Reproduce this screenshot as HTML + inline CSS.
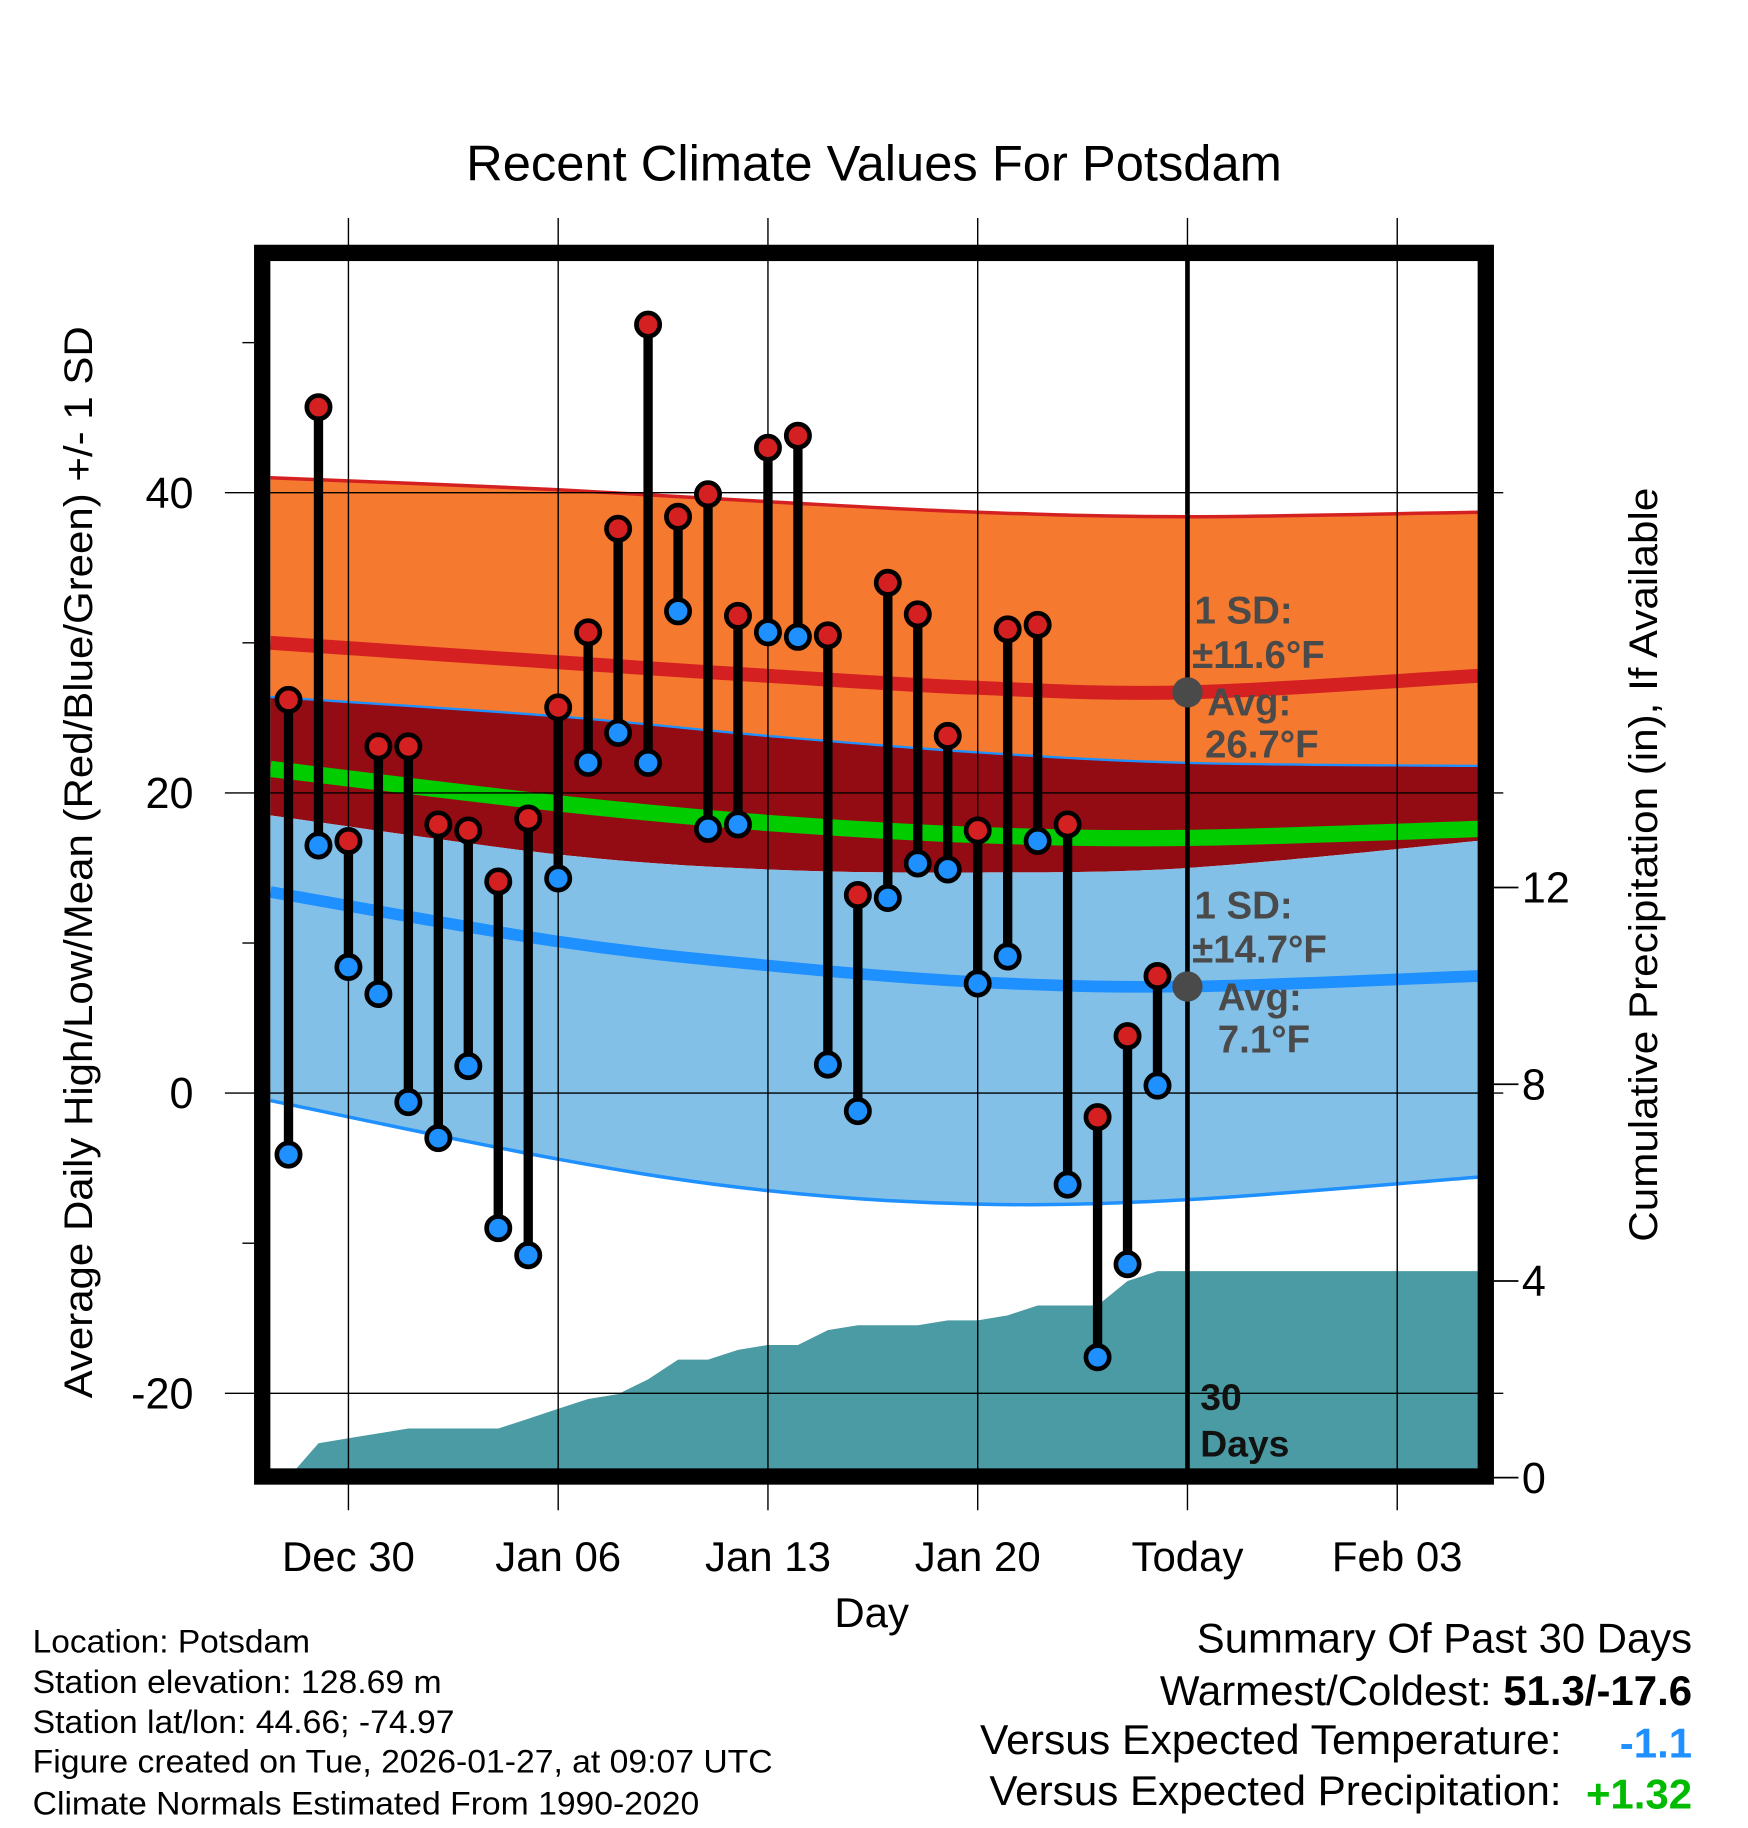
<!DOCTYPE html>
<html><head><meta charset="utf-8"><style>html,body{margin:0;padding:0;background:#fff}svg{display:block}</style></head>
<body>
<svg id="chart" xmlns="http://www.w3.org/2000/svg" width="1748" height="1828" viewBox="0 0 1500 1568.6" font-family="Liberation Sans, Arial, sans-serif">
<g id="bands"></g>
<g id="precip"></g>
<g id="grid"></g>
<g id="marks"></g>
<g id="annot"></g>
<g id="axes"></g>
</svg>
<script>
// ---- data ----
const dayLabels = ["Dec 30","Jan 06","Jan 13","Jan 20","Today","Feb 03"];
const dayLabelDays = [0,7,14,21,28,35];
const yTicks = [40,20,0,-20];
const yMinor = [50,30,10,-10];
const pTicks = [0,4,8,12];
const bandDays = [-2.6,7,14,21,28,37.7];
const highTop = [41.0,40.2,39.4,38.7,38.4,38.7];
const highMean = [30.0,28.7,27.8,27.0,26.7,27.8];
const highBottom = [26.4,25.1,23.8,22.7,22.0,21.8];
const meanTemp = [21.6,19.3,18.0,17.2,17.0,17.6];
const lowTop = [18.5,15.9,14.9,14.7,15.0,16.8];
const lowMean = [13.4,10.1,8.5,7.4,7.1,7.8];
const lowBottom = [-0.5,-4.4,-6.5,-7.4,-7.1,-5.6];
const obsDays = [-2,-1,0,1,2,3,4,5,6,7,8,9,10,11,12,13,14,15,16,17,18,19,20,21,22,23,24,25,26,27];
const highs = [26.2,45.7,16.8,23.1,23.1,17.9,17.5,14.1,18.3,25.7,30.7,37.6,51.2,38.4,39.9,31.8,43.0,43.8,30.5,13.2,34.0,31.9,23.8,17.5,30.9,31.2,17.9,-1.6,3.8,7.8];
const lows = [-4.1,16.5,8.4,6.6,-0.6,-3.0,1.8,-9.0,-10.8,14.3,22.0,24.0,22.0,32.1,17.6,17.9,30.7,30.4,1.9,-1.2,13.0,15.3,14.9,7.3,9.1,16.8,-6.1,-17.6,-11.4,0.5];
const precip = [0.0,0.7,0.8,0.9,1.0,1.0,1.0,1.0,1.2,1.4,1.6,1.7,2.0,2.4,2.4,2.6,2.7,2.7,3.0,3.1,3.1,3.1,3.2,3.2,3.3,3.5,3.5,3.5,4.0,4.2];
const precipEnd = 37.7;

// ---- axes ----
const X = d => 299 + d*25.714;
const Y = v => 938 - v*12.88;
const P = p => 1268 - p*42.2;
const NS="http://www.w3.org/2000/svg";
function mk(tag, attrs, parent, text){const e=document.createElementNS(NS,tag);for(const k in attrs)e.setAttribute(k,attrs[k]);if(text!==undefined)e.textContent=text;parent.appendChild(e);return e;}
const bands=document.getElementById('bands'),grid=document.getElementById('grid'),marks=document.getElementById('marks'),annot=document.getElementById('annot'),axes=document.getElementById('axes'),pg=document.getElementById('precip');

function smooth(arr){
  const p=bandDays.map((d,i)=>[X(d),Y(arr[i])]);
  let s='M'+p[0][0].toFixed(1)+','+p[0][1].toFixed(1);
  for(let i=0;i<p.length-1;i++){
    const p0=p[Math.max(0,i-1)],p1=p[i],p2=p[i+1],p3=p[Math.min(p.length-1,i+2)];
    const c1=[p1[0]+(p2[0]-p0[0])/6,p1[1]+(p2[1]-p0[1])/6];
    const c2=[p2[0]-(p3[0]-p1[0])/6,p2[1]-(p3[1]-p1[1])/6];
    s+=' C'+c1[0].toFixed(1)+','+c1[1].toFixed(1)+' '+c2[0].toFixed(1)+','+c2[1].toFixed(1)+' '+p2[0].toFixed(1)+','+p2[1].toFixed(1);
  }
  return s;
}
function smoothRev(arr){
  const p=bandDays.map((d,i)=>[X(d),Y(arr[i])]).reverse();
  let s=' L'+p[0][0].toFixed(1)+','+p[0][1].toFixed(1);
  for(let i=0;i<p.length-1;i++){
    const p0=p[Math.max(0,i-1)],p1=p[i],p2=p[i+1],p3=p[Math.min(p.length-1,i+2)];
    const c1=[p1[0]+(p2[0]-p0[0])/6,p1[1]+(p2[1]-p0[1])/6];
    const c2=[p2[0]-(p3[0]-p1[0])/6,p2[1]-(p3[1]-p1[1])/6];
    s+=' C'+c1[0].toFixed(1)+','+c1[1].toFixed(1)+' '+c2[0].toFixed(1)+','+c2[1].toFixed(1)+' '+p2[0].toFixed(1)+','+p2[1].toFixed(1);
  }
  return s;
}
function area(top,bot,fill,name){
  const e=mk('path',{d:smooth(top)+smoothRev(bot)+' Z',fill:fill},bands);
  
  
}
function line(arr,stroke,w,name){
  const e=mk('path',{d:smooth(arr),fill:'none',stroke:stroke,'stroke-width':w},bands);
  
  
}
area(highTop,highBottom,'#f57a2f','high-sd-band');
area(highBottom,lowTop,'#930c14','overlap-band');
area(lowTop,lowBottom,'#82c0e8','low-sd-band');
line(highTop,'#d42020',3,'high-sd-top-line');
line(highBottom,'#1e90ff',2,'high-sd-bottom-line');
line(lowBottom,'#1e90ff',3,'low-sd-bottom-line');
line(highMean,'#d42020',12,'high-mean-line');
line(meanTemp,'#00cc00',14,'mean-temp-line');
line(lowMean,'#1e90ff',10,'low-mean-line');

// precipitation
let pd='M'+X(obsDays[0])+','+P(0);
obsDays.forEach((d,i)=>{pd+=' L'+X(d).toFixed(1)+','+P(precip[i]).toFixed(1);});
pd+=' L'+X(precipEnd)+','+P(precip[precip.length-1]).toFixed(1)+' L'+X(precipEnd)+','+P(0)+' Z';
const pe=mk('path',{d:pd,fill:'#4a9ba3'},pg);



// grid
dayLabelDays.forEach((d,i)=>{
  const e=mk('line',{x1:X(d),x2:X(d),y1:187,y2:1296,stroke:'#000','stroke-width':1.2},grid);
  
  
});
yTicks.forEach(v=>{
  const e=mk('line',{x1:193,x2:1290,y1:Y(v),y2:Y(v),stroke:'#000','stroke-width':1.2},grid);
  
  
});

// today line
const tl=mk('line',{x1:X(28),x2:X(28),y1:217,y2:1265,stroke:'#000','stroke-width':4},marks);



// stems and points
obsDays.forEach((d,i)=>{
  const s=mk('line',{x1:X(d),x2:X(d),y1:Y(highs[i]),y2:Y(lows[i]),stroke:'#000','stroke-width':8},marks);
  
  
});
obsDays.forEach((d,i)=>{
  const h=mk('circle',{cx:X(d),cy:Y(highs[i]),r:10,fill:'#d42020',stroke:'#000','stroke-width':4},marks);
  
  
  const l=mk('circle',{cx:X(d),cy:Y(lows[i]),r:10,fill:'#1e90ff',stroke:'#000','stroke-width':4},marks);
  
  
});

// annotations
const hm=mk('circle',{cx:X(28),cy:Y(26.7),r:13,fill:'#4a4a4a'},annot);


const lm=mk('circle',{cx:X(28),cy:Y(7.1),r:13,fill:'#4a4a4a'},annot);


const notes=[["1 SD:",1025,535],["±11.6°F",1023,573],["Avg:",1036,614],["26.7°F",1034,650],["1 SD:",1025,788],["±14.7°F",1023,826],["Avg:",1045,867],["7.1°F",1045,903]];
notes.forEach(n=>{
  const t=mk('text',{x:n[1],y:n[2],'font-size':33,'font-weight':'bold',fill:'#4a4a4a'},annot,n[0]);
  
  
});
const d30=mk('text',{x:1030,y:1210,'font-size':32,'font-weight':'bold',fill:'#111'},annot,"30");


const d30b=mk('text',{x:1030,y:1250,'font-size':32,'font-weight':'bold',fill:'#111'},annot,"Days");



// frame
const fr=mk('rect',{x:225,y:217,width:1050,height:1050,fill:'none',stroke:'#000','stroke-width':14},axes);



// y ticks
yTicks.forEach(v=>{
  const t=mk('text',{x:166,y:Y(v)+13,'font-size':37,'text-anchor':'end'},axes,String(v));
  
  
});
yMinor.forEach(v=>{
  const e=mk('line',{x1:208,x2:218,y1:Y(v),y2:Y(v),stroke:'#000','stroke-width':1.2},axes);
  
  
});
pTicks.forEach(p=>{
  const e=mk('line',{x1:1282,x2:1303,y1:P(p),y2:P(p),stroke:'#000','stroke-width':1.5},axes);
  
  
  const t=mk('text',{x:1306,y:P(p)+13,'font-size':37},axes,String(p));
  
  
});
dayLabelDays.forEach((d,i)=>{
  const t=mk('text',{x:X(d),y:1348,'font-size':36,'text-anchor':'middle'},axes,dayLabels[i]);
  
  
});
</script>
<svg style="position:absolute;left:0;top:0" width="1748" height="1828" viewBox="0 0 1500 1568.6" font-family="Liberation Sans, Arial, sans-serif">
<text x="400" y="155" font-size="43" textLength="700" lengthAdjust="spacingAndGlyphs">Recent Climate Values For Potsdam</text>
<text transform="translate(79,740) rotate(-90)" font-size="34" text-anchor="middle" textLength="920" lengthAdjust="spacingAndGlyphs">Average Daily High/Low/Mean (Red/Blue/Green) +/- 1 SD</text>
<text transform="translate(1422,742) rotate(-90)" font-size="34" text-anchor="middle" textLength="647" lengthAdjust="spacingAndGlyphs">Cumulative Precipitation (in), If Available</text>
<text x="748" y="1396" font-size="36" text-anchor="middle">Day</text>
<g font-size="28">
<text x="28" y="1418" textLength="238" lengthAdjust="spacingAndGlyphs">Location: Potsdam</text>
<text x="28" y="1453" textLength="351" lengthAdjust="spacingAndGlyphs">Station elevation: 128.69 m</text>
<text x="28" y="1487" textLength="362" lengthAdjust="spacingAndGlyphs">Station lat/lon: 44.66; -74.97</text>
<text x="28" y="1521" textLength="635" lengthAdjust="spacingAndGlyphs">Figure created on Tue, 2026-01-27, at 09:07 UTC</text>
<text x="28" y="1557" textLength="572" lengthAdjust="spacingAndGlyphs">Climate Normals Estimated From 1990-2020</text>
</g>
<g font-size="36">
<text x="1027" y="1418" textLength="425" lengthAdjust="spacingAndGlyphs">Summary Of Past 30 Days</text>
<text x="1452" y="1463" text-anchor="end">Warmest/Coldest: <tspan font-weight="bold">51.3/-17.6</tspan></text>
<text x="841" y="1505" textLength="499" lengthAdjust="spacingAndGlyphs">Versus Expected Temperature:</text>
<text x="1452" y="1508" text-anchor="end" font-weight="bold" fill="#1e90ff">-1.1</text>
<text x="849" y="1549" textLength="491" lengthAdjust="spacingAndGlyphs">Versus Expected Precipitation:</text>
<text x="1452" y="1552" text-anchor="end" font-weight="bold" fill="#00bb00">+1.32</text>
</g>
</svg>
</body></html>
